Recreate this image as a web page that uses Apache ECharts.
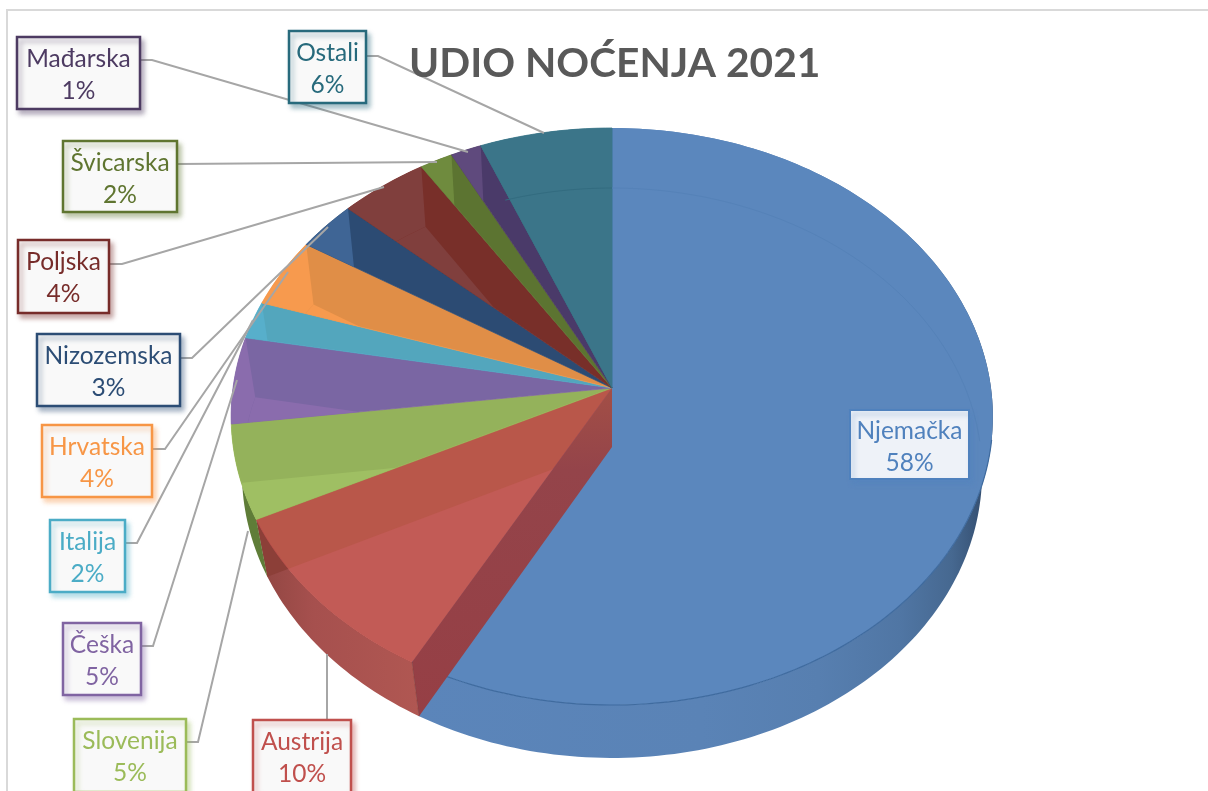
<!DOCTYPE html>
<html>
<head>
<meta charset="utf-8">
<style>html,body{margin:0;padding:0;background:#fff;overflow:hidden}#c{width:1208px;height:791px}</style>
<script src="https://cdn.jsdelivr.net/npm/echarts@6/dist/echarts.min.js"></script>
</head>
<body>
<div id="c"></div>
<script>
const categories = ['Njemačka','Austrija','Slovenija','Češka','Italija','Hrvatska','Nizozemska','Poljska','Švicarska','Mađarska','Ostali'];
const values = [58, 9.74, 5.27, 4.85, 2.1, 3.9, 2.82, 4.15, 1.55, 1.45, 6.17];
const faceColors = ['#5b87bd','#b9574a','#94b25b','#7a66a3','#53a6bd','#e08e47','#2c4b73','#782f29','#5c7431','#4a3a69','#3a7488'];
const lightColors = ['#5b87bd','#c25b56','#9fbf63','#8a6cad','#57afcb','#f79a4e','#3f6595','#803f3d','#6f8b3e','#5f4a7d','#3b7589'];
const labelColors = ['#4f81bd','#c0504d','#9bbb59','#8064a2','#4bacc6','#f79646','#2c4d75','#772c2a','#5f7530','#4d3b62','#276a7c'];
const titleText = 'UDIO NOĆENJA 2021';

// Perspective view of the pie: top plane and bottom plane
const TOP = {cx:612, cy:388, W:379,   h:285.7, k:0.0988};
const BOT = {cx:612, cy:447, W:368.5, h:282.6, k:0.0912};
// Layout of callouts: [left, top, right, bottom], leader polyline
const boxes = [
  [849,409,970,480,null],
  [252,719,352,794,[[327,719],[327,654]]],
  [73,718,187,793,[[187,742],[198,742],[248,531]]],
  [62,622,142,696,[[142,646],[153,646],[237,380]]],
  [49,519,126,593,[[126,543],[137,543],[253,320]]],
  [41,424,153,498,[[153,449],[165,449],[288,272]]],
  [36,333,181,407,[[181,358],[192,358],[328,227]]],
  [17,239,110,314,[[110,264],[122,264],[384,187]]],
  [62,140,178,213,[[178,164],[437,162]]],
  [16,36,141,110,[[141,60],[152,60],[468,152]]],
  [288,30,367,104,[[367,56],[378,56],[544,133]]]
];

const total = values.reduce((a,b)=>a+b,0);
const starts = []; values.reduce((acc,v,i)=>{starts[i]=acc;return acc+v;},0);
const ang = v => v/total*2*Math.PI;
function proj(c,phi){const x=Math.sin(phi),y=-Math.cos(phi),w=1-c.k*y;return [c.cx+c.W*x/w,c.cy+c.h*y/w];}
function arc(c,a,b){const n=Math.max(6,Math.ceil(Math.abs(b-a)/0.02)),p=[];for(let i=0;i<=n;i++)p.push(proj(c,a+(b-a)*i/n));return p;}
function clip(subject,win){
  let area=0;for(let i=0;i<win.length;i++){const a=win[i],b=win[(i+1)%win.length];area+=a[0]*b[1]-b[0]*a[1];}
  const s=area>0?1:-1;let out=subject;
  for(let i=0;i<win.length&&out.length;i++){
    const a=win[i],b=win[(i+1)%win.length];
    if(Math.hypot(a[0]-b[0],a[1]-b[1])<1e-6)continue;
    const side=p=>s*((b[0]-a[0])*(p[1]-a[1])-(b[1]-a[1])*(p[0]-a[0]));
    const inp=out;out=[];
    for(let j=0;j<inp.length;j++){
      const P=inp[j],Q=inp[(j+1)%inp.length],dp=side(P),dq=side(Q);
      if(dp>=0)out.push(P);
      if((dp>=0)!==(dq>=0)){const t=dp/(dp-dq);out.push([P[0]+(Q[0]-P[0])*t,P[1]+(Q[1]-P[1])*t]);}
    }
  }
  return out;
}
const poly=(pts,fill,stroke,lw)=>({type:'polygon',shape:{points:pts},style:{fill:fill,stroke:stroke||null,lineWidth:lw||0},silent:true});
const line=(pts,stroke,lw)=>({type:'polyline',shape:{points:pts},style:{fill:null,stroke:stroke,lineWidth:lw},silent:true});
const hGrad=stops=>({type:'linear',x:0,y:0,x2:1,y2:0,colorStops:stops.map(s=>({offset:s[0],color:s[1]}))});
const seriesData = values.map((v,i)=>[i,v]);
const range=(i,v)=>{const a=ang(starts[i]);return [a,a+ang(v)];};

function sides(params,api){
  const i=api.value(0),[a,b]=range(i,api.value(1)),ch=[];
  if(i===0){
    const pts=arc(TOP,a,b).concat(arc(BOT,b,a));
    ch.push(poly(pts,hGrad([[0,'#5b85ba'],[0.5,'#5a83b6'],[0.7,'#577fb0'],[0.84,'#5076a4'],[0.93,'#466890'],[1,'#2f4767']])));
  } else if(i===1){
    ch.push(poly(arc(TOP,a,b).concat(arc(BOT,b,a)),hGrad([[0,'#8f4541'],[0.35,'#a6504e'],[1,'#b05752']])));
    ch.push(poly([[TOP.cx,TOP.cy],[BOT.cx,BOT.cy],proj(BOT,b),proj(TOP,b)],'#8c3f38'));
  } else if(i===2){
    ch.push(poly(arc(TOP,a,b).concat(arc(BOT,b,a)),'#5f7d38'));
  }
  return {type:'group',children:ch};
}
function faces(params,api){
  const i=api.value(0),[a,b]=range(i,api.value(1)),ch=[];
  const sector=[[TOP.cx,TOP.cy]].concat(arc(TOP,a,b));
  ch.push(poly(sector,faceColors[i],i===0?null:labelColors[i],i===0?0:0.7));
  if(i>0){
    const floor=clip([[BOT.cx,BOT.cy]].concat(arc(BOT,a,b)),sector);
    if(floor.length>2)ch.push(poly(floor,lightColors[i]));
    if(i>2){
      const band=clip(arc(TOP,a,b).concat(arc(BOT,b,a)),sector);
      if(band.length>2)ch.push(poly(band,lightColors[i]));
    }
  }
  return {type:'group',children:ch};
}
function overlays(params,api){
  const i=api.value(0),[a,b]=range(i,api.value(1)),ch=[];
  if(i===1){
    ch.push(poly([[TOP.cx,TOP.cy],[BOT.cx,BOT.cy],proj(BOT,a),proj(TOP,a)],
      {type:'linear',x:0,y:0,x2:0,y2:1,colorStops:[{offset:0,color:'#a34f46'},{offset:0.25,color:'#94444a'},{offset:1,color:'#963f45'}]}));
    ch.push(line([proj(TOP,a),proj(BOT,a)],'#8a3c36',0.6));
  }
  if(i===0){
    ch.push(line(arc(TOP,1.75,b),'#3f6b9f',1.2));
    ch.push(line(arc(BOT,0,1.55),'#5582b8',1));
  }
  if(i===10){
    ch.push(line(arc(BOT,b-0.32,b),'#336c80',1));
  }
  return {type:'group',children:ch};
}

const graphic=[{type:'rect',shape:{x:7,y:10,width:1300,height:900},style:{fill:'#fff',stroke:'#d9d9d9',lineWidth:2},z:-10,silent:true}];
boxes.forEach((b,i)=>{
  if(b[4])graphic.push({type:'polyline',shape:{points:b[4]},style:{fill:null,stroke:'#a6a6a6',lineWidth:2},z:20,silent:true});
});
boxes.forEach((b,i)=>{
  const w=b[2]-b[0],h=b[3]-b[1],pct=Math.round(values[i]/total*100)+'%';
  graphic.push({type:'rect',shape:{x:b[0]+1,y:b[1]+1,width:w-2,height:h-2},
    style:{fill:i===0?'#eef2f8':'#f9f9f9',stroke:labelColors[i],lineWidth:i===0?2:2.5,shadowBlur:5,shadowOffsetX:3,shadowOffsetY:4,shadowColor:labelColors[i]+'66'},z:30,silent:true});
  graphic.push({type:'text',x:(b[0]+b[2])/2,y:b[1]+(i===0?38:39),z:31,silent:true,
    style:{text:categories[i]+'\n'+pct,fill:labelColors[i],fontSize:24.5,fontFamily:'Lato',lineHeight:32,align:'center',verticalAlign:'middle'}});
});

const chart=echarts.init(document.getElementById('c'),null,{renderer:'canvas'});
chart.setOption({
  animation:false,
  backgroundColor:'#fff',
  title:{text:titleText,left:404,top:38,textStyle:{fontFamily:'Lato',fontWeight:'bold',fontSize:40.7,color:'#595959'},z:25},
  graphic:graphic,
  series:[
    {type:'custom',coordinateSystem:'none',data:seriesData,renderItem:sides,z:2,silent:true},
    {type:'custom',coordinateSystem:'none',data:seriesData,renderItem:faces,z:3,silent:true},
    {type:'custom',coordinateSystem:'none',data:seriesData,renderItem:overlays,z:4,silent:true}
  ]
});
</script>
</body>
</html>
